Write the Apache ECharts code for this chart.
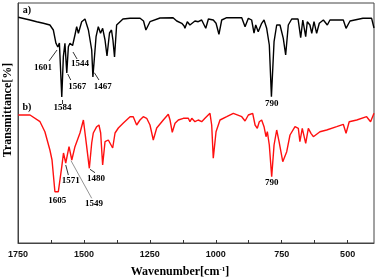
<!DOCTYPE html>
<html><head><meta charset="utf-8">
<script src="https://cdn.jsdelivr.net/npm/echarts@6/dist/echarts.min.js"></script>
<style>html,body{margin:0;padding:0;background:#fff}#c{width:377px;height:280px}</style>
</head><body><div id="c"></div>
<script>
// Spectrum a) (black)
const wavenumberA = [1749,1704.5,1679,1654,1629,1616,1606,1599,1593,1584,1578,1572,1565,1559,1553,1543,1534,1527.5,1521,1508.5,1496,1483,1470.5,1466,1454,1445.5,1437,1429,1420,1412.5,1403,1395.5,1390,1384,1376,1352,1325,1287,1274,1265,1249.5,1211.5,1162,1148,1129,1120,1117,1108,1098,1079,1066.5,1053.5,1038,1028,1009.5,999,988,977.5,958.5,901.5,889,876.5,864,855,848.5,839,826,817,807,797,789,779,769,756.5,744,735,725,712,688,678,670,659,653,643,636,627.5,617.5,607.5,592,577,567,516.5,506,491,442,409,400];
const transmittanceA = [225.7,223,221.3,219.7,218,213,199.7,196,200,146,186.3,199.7,170,196.3,199.7,197.5,208,216.3,209.7,221.3,224,213,193,166,206.3,216.3,209.7,214.7,203,187,210,213,203,186,218,224,224.7,224.7,222,213,221.3,225,225.3,222,219.7,217,214.7,221.3,218,222,221.3,223,214.7,224,223,219.7,208.7,223,225.3,225.3,216.3,224.7,223,210,218,211.3,219.7,223,214.7,198,146.3,201.3,218,218,204.7,188,218,224,224,205.3,223,206.3,221.3,218,209.7,221.3,209.7,219.7,223,218,223,223,214.7,222,224.7,224.7,215];
// Spectrum b) (red)
const wavenumberB = [1749,1704.5,1666.5,1648,1629,1621,1610,1597,1584,1577.5,1569,1556.5,1546,1534,1515,1502,1496,1489.5,1479.5,1470.5,1464.5,1458,1451.5,1443,1436.5,1429,1420,1407.5,1401,1391,1382,1369.5,1350.5,1325,1313,1300,1287.5,1275,1262,1249.5,1237,1224,1199,1180,1173.5,1165,1154.5,1142,1123,1104,1098,1091,1079,1072,1066.5,1053.5,1041,1022,1015.5,1009.5,999,984,958.5,933.5,901.5,889,876.5,860,851,842.5,835,826,817,809.5,804.5,797,788,779,769,760,746,731,718.5,699.5,687,681,672,659,649,639,630,605,579.5,541.5,516.5,506,494,465.5,428,413,400];
const transmittanceB = [128,128,121.3,111.3,93,83,51.3,51.3,76.3,90,80,96.3,83,96.3,110,123,121.3,96.3,74.7,100,110,108,116.3,118,110,78,101.3,103,101.3,95,110,115,120,126.3,126.3,118,123,126.3,124.7,118,103,115,123,128.7,123,110.7,119.7,123,124.7,124.7,121.3,124.7,121.3,119.7,123,121.3,124.7,129.7,118,84.7,111.3,123,126.3,129.7,126.3,122,128,129.7,118,114.7,121.3,123,116.3,106.3,111.3,98,66.3,98,113,101.3,81.3,91.3,108,116.3,114.7,101.3,114.7,99.7,114.7,109.7,106.3,111.3,113,116.3,118.7,109.7,121.3,123,126.3,121.3,129.7];
// Axis ticks
const tickLabels = [1750,1500,1250,1000,750,500];
const tickMarks = [1750,1625,1500,1375,1250,1125,1000,875,750,625,500];
// Peak annotations (data coordinates)
const labelsA = [
  {name:'a)', coord:[1716,233], size:10},
  {name:'1601', coord:[1655,175]},
  {name:'1584', coord:[1581,135]},
  {name:'1567', coord:[1525,156]},
  {name:'1544', coord:[1515,179]},
  {name:'1467', coord:[1429,156]},
  {name:'790', coord:[788,139.5]}
];
const arrowsA = [
  [[1632.5,182],[1602,193]],
  [[1583,139],[1583,143]],
  [[1550,163],[1561.5,169]],
  [[1526,184],[1541.5,191]],
  [[1443,163],[1460.5,170.3]]
];
const labelsB = [
  {name:'b)', coord:[1716,136], size:10},
  {name:'1605', coord:[1601,42.3]},
  {name:'1571', coord:[1550,62.3]},
  {name:'1480', coord:[1454,64.3]},
  {name:'1549', coord:[1462,39]},
  {name:'790', coord:[788,60.3]}
];
const arrowsB = [
  [[1559,68],[1569,78]],
  [[1458,70.3],[1477,73.7]],
  [[1470.5,44.7],[1549,82.3]]
];

const serif = '"Liberation Serif","DejaVu Serif",serif';
function pairs(xs, ys){ return xs.map((x,i)=>[x, ys[i]]); }
function mp(labels){
  return {
    symbol:'circle', symbolSize:0, silent:true,
    label:{show:true, position:'inside', formatter:p=>p.name, color:'#000', fontFamily:serif, fontWeight:'bold', fontSize:9},
    data: labels.map(l=>({name:l.name, coord:l.coord, label: l.size?{fontSize:l.size}:undefined}))
  };
}
function ml(arrows, grayLast){
  return {
    silent:true, symbol:['none','arrow'], symbolSize:[0,4],
    label:{show:false},
    lineStyle:{color:'#000', width:0.8, type:'solid'},
    data: arrows.map((a,i)=>{
      const d=[{coord:a[0]},{coord:a[1]}];
      if(grayLast && i===arrows.length-1){ d[0].lineStyle={color:'#666', width:0.7}; }
      return d;
    })
  };
}
const chart = echarts.init(document.getElementById('c'), null, {renderer:'canvas'});
chart.setOption({
  animation:false,
  backgroundColor:'#fff',
  grid:{left:18, right:3, top:3, bottom:37, show:true, borderColor:'#444', borderWidth:1},
  xAxis:{
    type:'value', min:400, max:1750, inverse:true,
    axisLine:{show:true, lineStyle:{color:'#444', width:1}},
    axisTick:{show:true, inside:true, length:3, customValues:tickMarks, lineStyle:{color:'#333'}},
    axisLabel:{show:true, customValues:tickLabels, formatter:v=>String(v), fontFamily:'"Liberation Sans",Arial,sans-serif', fontWeight:'bold', fontSize:9, color:'#111', margin:7},
    splitLine:{show:false}
  },
  yAxis:{
    type:'value', min:0, max:240,
    axisLine:{show:true, lineStyle:{color:'#444', width:1}},
    axisTick:{show:false}, axisLabel:{show:false}, splitLine:{show:false}
  },
  series:[
    {type:'line', data:pairs(wavenumberA, transmittanceA), symbol:'none', lineStyle:{color:'#000', width:1.4}, z:3,
     markPoint:mp(labelsA), markLine:ml(arrowsA,false)},
    {type:'line', data:pairs(wavenumberB, transmittanceB), symbol:'none', lineStyle:{color:'#ff1010', width:1.4}, z:2,
     markPoint:mp(labelsB), markLine:ml(arrowsB,true)}
  ],
  graphic:[
    {type:'text', x:180, y:272, style:{text:'Wavenumber[cm{sup|-1}]', fill:'#000', font:'bold 12px '+serif, align:'center', verticalAlign:'middle',
      rich:{sup:{fontSize:7, fontWeight:'bold', fontFamily:serif, verticalAlign:'top', padding:[0,0,6,0]}}}},
    {type:'text', x:8, y:110, rotation:Math.PI/2, style:{text:'Transmittance[%]', fill:'#000', font:'bold 12px '+serif, align:'center', verticalAlign:'middle'}}
  ]
});
</script></body></html>
